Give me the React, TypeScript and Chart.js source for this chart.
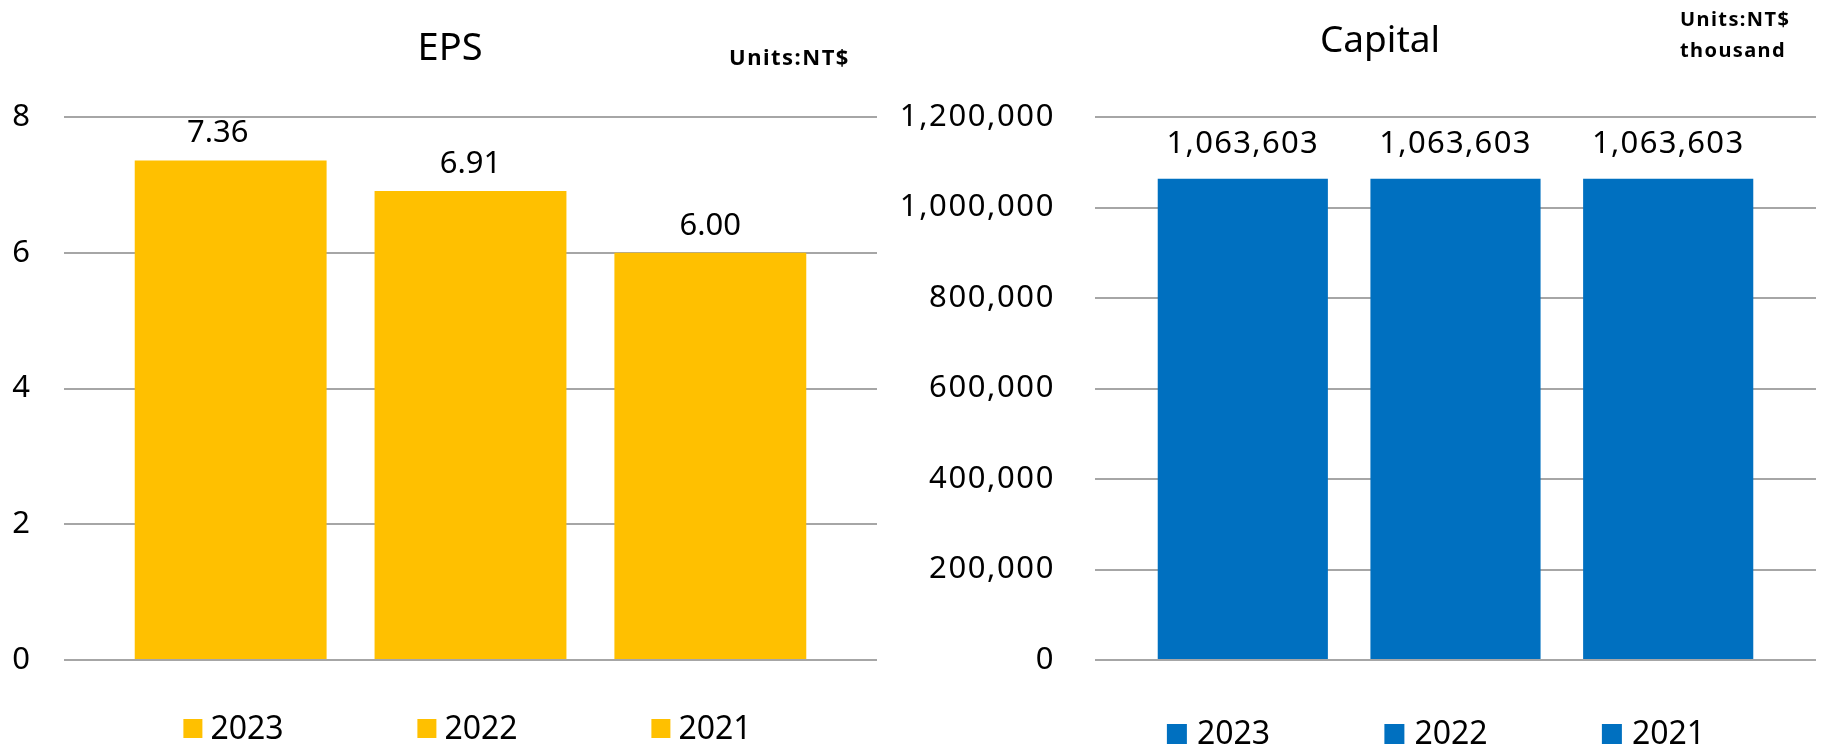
import React, { useEffect, useRef } from 'react';
import { Chart, registerables } from 'chart.js';

Chart.register(...registerables);

// ---- data ----
const groupLabels = [''];
const years = ['2023', '2022', '2021'];
const epsValues = [7.36, 6.91, 6.0];
const capitalValues = [1063603, 1063603, 1063603];
const epsTickMax = 8;
const epsTickStep = 2;
const capitalTickMax = 1200000;
const capitalTickStep = 200000;

const FONT = '"Noto Sans", "Open Sans", sans-serif';
const EPS_COLOR = '#FFC000';
const CAPITAL_COLOR = '#0070C0';
const GRID_COLOR = '#A6A6A6';

type Overlay = {
  title: string;
  titleSize: number;
  titleX: number;
  titleY: number;
  units: string[];
  unitSize: number;
  unitSpacing: number;
  unitX: number;
  unitY: number;
  unitLine: number;
  labelSize: number;
  labelSpacing: number;
  labelGap: number;
  labelDx: number[];
  decimals: number;
  box: number;
  boxGap: number;
  legendSize: number;
  legendX: number;
  legendY: number;
  legendSpacing: number;
  tickSpacing: number;
};

function fmt(v: number, decimals: number) {
  return v.toLocaleString('en-US', { minimumFractionDigits: decimals, maximumFractionDigits: decimals });
}

function makeOverlay(o: Overlay) {
  return {
    id: 'overlay',
    beforeDraw(chart: any) {
      (chart.ctx as any).letterSpacing = `${o.tickSpacing}px`;
    },
    afterDraw(chart: any) {
      const ctx = chart.ctx as any;
      ctx.save();
      ctx.fillStyle = '#000';
      ctx.textBaseline = 'alphabetic';
      // title
      ctx.letterSpacing = '0px';
      ctx.font = `${o.titleSize}px ${FONT}`;
      ctx.textAlign = 'center';
      ctx.fillText(o.title, o.titleX, o.titleY);
      // units
      ctx.letterSpacing = `${o.unitSpacing}px`;
      ctx.font = `bold ${o.unitSize}px ${FONT}`;
      ctx.textAlign = 'left';
      o.units.forEach((u, i) => ctx.fillText(u, o.unitX, o.unitY + i * o.unitLine));
      // value labels
      ctx.letterSpacing = `${o.labelSpacing}px`;
      ctx.font = `${o.labelSize}px ${FONT}`;
      ctx.textAlign = 'center';
      chart.data.datasets.forEach((ds: any, di: number) => {
        const meta = chart.getDatasetMeta(di);
        meta.data.forEach((el: any, i: number) => {
          ctx.fillText(fmt(ds.data[i], o.decimals), el.x + (o.labelDx[di] || 0), el.y - o.labelGap);
        });
      });
      // legend
      ctx.letterSpacing = '0px';
      ctx.font = `${o.legendSize}px ${FONT}`;
      ctx.textBaseline = 'middle';
      ctx.textAlign = 'left';
      const n = chart.data.datasets.length;
      chart.data.datasets.forEach((ds: any, di: number) => {
        const tw = ctx.measureText(ds.label).width;
        const itemW = o.box + o.boxGap + tw;
        const cx = o.legendX + (di - (n - 1) / 2) * o.legendSpacing;
        const x0 = cx - itemW / 2;
        ctx.fillStyle = ds.backgroundColor;
        ctx.fillRect(x0, o.legendY - o.box / 2, o.box, o.box);
        ctx.fillStyle = '#000';
        ctx.fillText(ds.label, x0 + o.box + o.boxGap, o.legendY + 1);
      });
      ctx.restore();
      ctx.letterSpacing = '0px';
    },
  };
}

type PanelProps = {
  left: number;
  width: number;
  values: number[];
  color: string;
  tickMax: number;
  tickStep: number;
  axisWidth: number;
  tickPadding: number;
  padRight: number;
  overlay: Overlay;
};

function Panel(p: PanelProps) {
  const ref = useRef<HTMLCanvasElement | null>(null);
  useEffect(() => {
    if (!ref.current) return;
    const chart = new Chart(ref.current, {
      type: 'bar',
      data: {
        labels: groupLabels,
        datasets: years.map((y, i) => ({
          label: y,
          data: [p.values[i]],
          backgroundColor: p.color,
          borderWidth: 0,
          categoryPercentage: 0.885,
          barPercentage: 0.8,
        })),
      },
      options: {
        responsive: false,
        animation: false,
        devicePixelRatio: 1,
        layout: { padding: { left: 0, right: p.padRight, top: 117, bottom: 89 } },
        plugins: {
          legend: { display: false },
          title: { display: false },
          tooltip: { enabled: false },
        },
        scales: {
          x: { display: false },
          y: {
            min: 0,
            max: p.tickMax,
            border: { display: false },
            grid: { color: GRID_COLOR, lineWidth: 2, drawTicks: false },
            ticks: {
              stepSize: p.tickStep,
              padding: p.tickPadding,
              color: '#000',
              font: { family: FONT, size: 31 },
              callback: (v: any) => Number(v).toLocaleString('en-US'),
            },
            afterFit: (scale: any) => {
              scale.width = p.axisWidth;
            },
          },
        },
      },
      plugins: [makeOverlay(p.overlay)],
    });
    return () => chart.destroy();
  }, []);
  return (
    <canvas
      ref={ref}
      width={p.width}
      height={749}
      style={{ position: 'absolute', left: p.left, top: 0, width: p.width, height: 749 }}
    />
  );
}

export default function App() {
  return (
    <div style={{ position: 'fixed', left: 0, top: 0, width: 1821, height: 749, background: '#fff' }}>
      <Panel
        left={0}
        width={900}
        values={epsValues}
        color={EPS_COLOR}
        tickMax={epsTickMax}
        tickStep={epsTickStep}
        axisWidth={64}
        tickPadding={34}
        padRight={23}
        overlay={{
          title: 'EPS',
          titleSize: 38,
          titleX: 450,
          titleY: 60,
          units: ['Units:NT$'],
          unitSize: 22,
          unitSpacing: 1.5,
          unitX: 729,
          unitY: 65,
          unitLine: 31,
          labelSize: 31,
          labelSpacing: 0,
          labelGap: 18,
          labelDx: [-13, 0, 0],
          decimals: 2,
          box: 19,
          boxGap: 8,
          legendSize: 32,
          legendX: 467.5,
          legendY: 728.5,
          legendSpacing: 234,
          tickSpacing: 0,
        }}
      />
      <Panel
        left={900}
        width={921}
        values={capitalValues}
        color={CAPITAL_COLOR}
        tickMax={capitalTickMax}
        tickStep={capitalTickStep}
        axisWidth={195}
        tickPadding={40}
        padRight={5}
        overlay={{
          title: 'Capital',
          titleSize: 37,
          titleX: 480,
          titleY: 52,
          units: ['Units:NT$', 'thousand'],
          unitSize: 20,
          unitSpacing: 1.4,
          unitX: 780,
          unitY: 26,
          unitLine: 31,
          labelSize: 31,
          labelSpacing: 1.3,
          labelGap: 26,
          labelDx: [0, 0, 0],
          decimals: 0,
          box: 20,
          boxGap: 10,
          legendSize: 32,
          legendX: 536,
          legendY: 734,
          legendSpacing: 217.5,
          tickSpacing: 1.6,
        }}
      />
    </div>
  );
}
